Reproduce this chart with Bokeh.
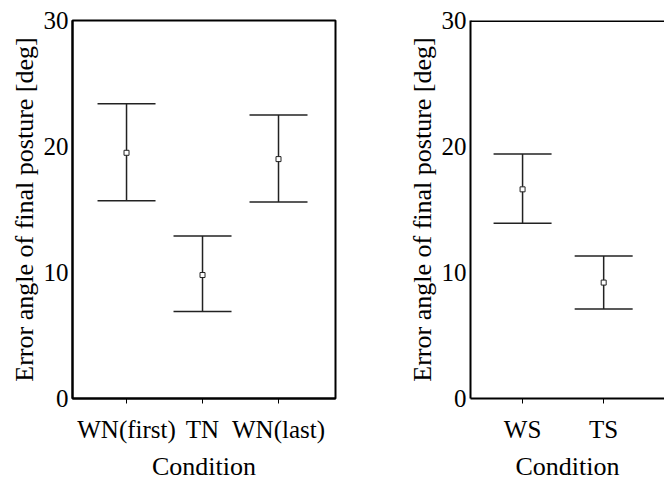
from bokeh.plotting import figure
from bokeh.layouts import row
from bokeh.models import ColumnDataSource, Whisker, TeeHead, FixedTicker, Range1d, Span
from bokeh.embed import file_html
from bokeh.resources import INLINE

# ---- data ----
left_categories = ["WN(first)", "TN", "WN(last)"]
left_mean = [19.5, 9.8, 19.0]
left_upper = [23.4, 12.9, 22.5]
left_lower = [15.7, 6.9, 15.6]

right_categories = ["WS", "TS"]
right_mean = [16.6, 9.2]
right_upper = [19.4, 11.3]
right_lower = [13.9, 7.1]

y_ticks = [0, 10, 20, 30]
y_title = "Error angle of final posture [deg]"
x_title = "Condition"

FONT = "Liberation Serif"
TICK_SIZE = "25px"
TITLE_SIZE = "26px"


def make_panel(cats, mean, upper, lower, xr, frame_w, border_right, top_line_only):
    xs = list(range(1, len(cats) + 1))
    src = ColumnDataSource(dict(x=xs, mean=mean, upper=upper, lower=lower))
    p = figure(frame_width=frame_w, frame_height=378,
               x_range=Range1d(*xr), y_range=Range1d(0, 30),
               output_backend="svg", toolbar_location=None,
               min_border_left=72, min_border_right=border_right,
               min_border_top=20, min_border_bottom=0)
    p.grid.visible = False
    if top_line_only:
        p.outline_line_color = None
        p.add_layout(Span(location=30, dimension="width", line_color="black", line_width=3))
    else:
        p.outline_line_color = "black"
        p.outline_line_width = 2

    w = Whisker(source=src, base="x", upper="upper", lower="lower",
                line_color="#222222", line_width=1.5,
                upper_head=TeeHead(size=58, line_color="#222222", line_width=1.5),
                lower_head=TeeHead(size=58, line_color="#222222", line_width=1.5))
    p.add_layout(w)
    p.scatter("x", "mean", source=src, marker="square", size=5,
              fill_color="white", line_color="#222222", line_width=1)

    # x axis
    p.xaxis.ticker = FixedTicker(ticks=xs)
    p.xaxis.major_label_overrides = {i: c for i, c in zip(xs, cats)}
    p.xaxis.minor_tick_line_color = None
    p.xaxis.major_tick_in = 0
    p.xaxis.major_tick_out = 5
    p.xaxis.axis_line_width = 2
    p.xaxis.major_label_text_font = FONT
    p.xaxis.major_label_text_font_size = TICK_SIZE
    p.xaxis.major_label_text_color = "black"
    p.xaxis.major_label_standoff = 12
    p.xaxis.axis_label = x_title
    p.xaxis.axis_label_text_font = FONT
    p.xaxis.axis_label_text_font_size = TITLE_SIZE
    p.xaxis.axis_label_text_font_style = "normal"
    p.xaxis.axis_label_text_color = "black"
    p.xaxis.axis_label_standoff = 6

    # y axis
    p.yaxis.ticker = FixedTicker(ticks=y_ticks)
    p.yaxis.minor_tick_line_color = None
    p.yaxis.major_tick_in = 0
    p.yaxis.major_tick_out = 0
    p.yaxis.axis_line_width = 2
    p.yaxis.major_label_text_font = FONT
    p.yaxis.major_label_text_font_size = TICK_SIZE
    p.yaxis.major_label_text_color = "black"
    p.yaxis.major_label_standoff = 4
    p.yaxis.axis_label = y_title
    p.yaxis.axis_label_text_font = FONT
    p.yaxis.axis_label_text_font_size = TITLE_SIZE
    p.yaxis.axis_label_text_font_style = "normal"
    p.yaxis.axis_label_text_color = "black"
    p.yaxis.axis_label_standoff = 2
    return p


left = make_panel(left_categories, left_mean, left_upper, left_lower,
                  (0.289, 3.75), 263, 63, False)
right = make_panel(right_categories, right_mean, right_upper, right_lower,
                   (0.358, 2.75), 194, 0, True)

layout = row(left, right, spacing=0)
open("out.html", "w").write(file_html(layout, INLINE))
